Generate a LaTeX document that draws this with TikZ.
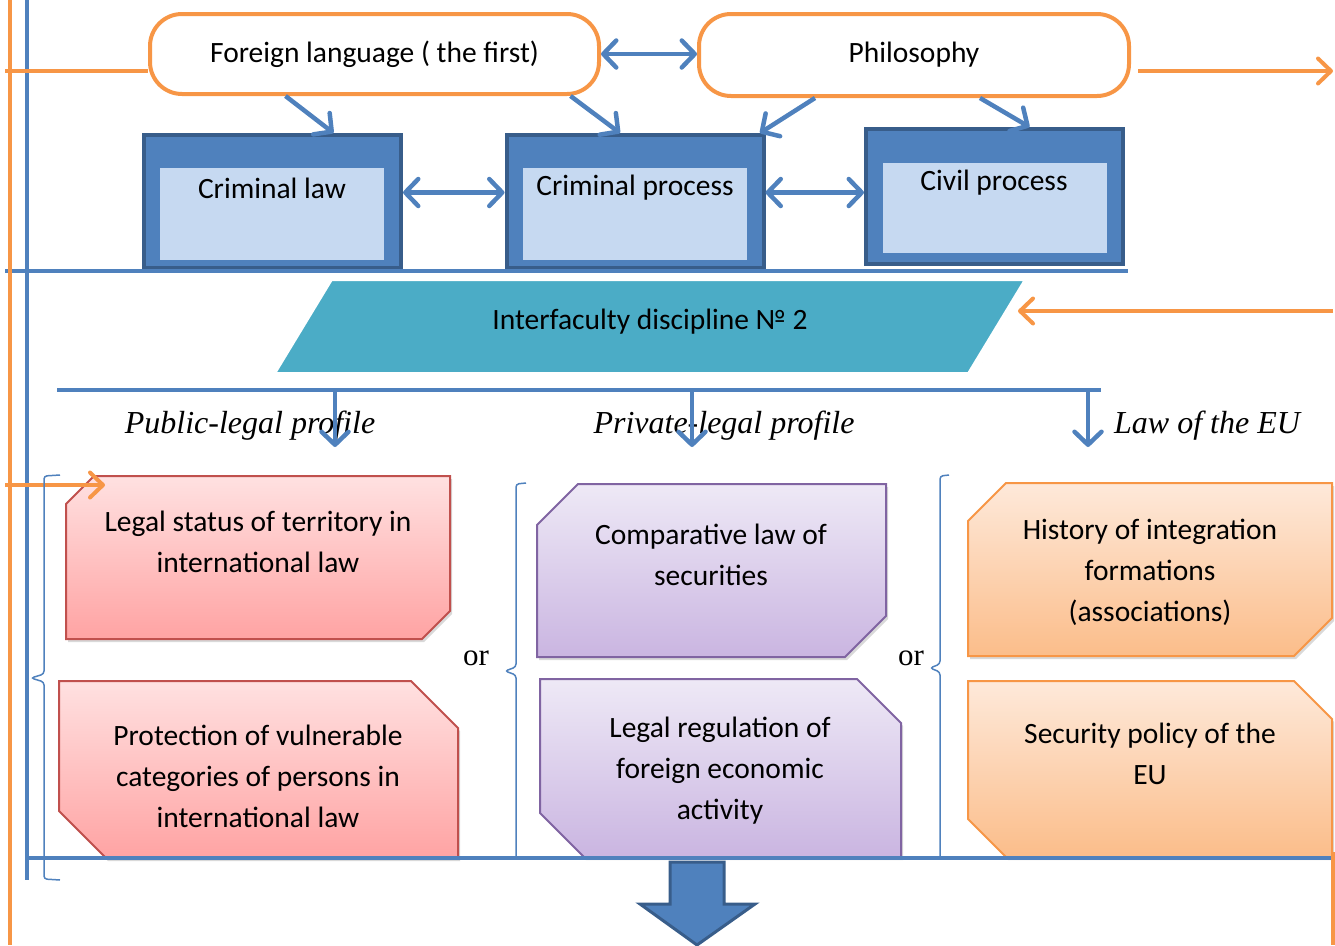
\documentclass[tikz,border=0pt]{standalone}
\usepackage{fontspec}
\setmainfont{Carlito}
\newfontfamily\timesfont{Liberation Serif}
\usetikzlibrary{arrows.meta,shadows}

\definecolor{orline}{HTML}{F79646}
\definecolor{blline}{HTML}{4F81BD}
\definecolor{bldark}{HTML}{385D8A}
\definecolor{blpale}{HTML}{C6D9F1}
\definecolor{discfill}{HTML}{4BACC6}
\definecolor{redline}{HTML}{C0504D}
\definecolor{redtop}{HTML}{FFE1E1}
\definecolor{redbot}{HTML}{FFA3A3}
\definecolor{vioedge}{HTML}{8064A2}
\definecolor{viotop}{HTML}{EEE9F6}
\definecolor{viobot}{HTML}{CAB5E1}
\definecolor{ortop}{HTML}{FEE9DA}
\definecolor{orbot}{HTML}{FBBD8A}

% snipped boxes: style, node, cut
\newcommand\snipNW[3]{\draw[#1] ([xshift=#3]#2.north west) -- (#2.north east) -- ([yshift=#3]#2.south east)
  -- ([xshift=-#3]#2.south east) -- (#2.south west) -- ([yshift=-#3]#2.north west) -- cycle;}
\newcommand\snipNE[3]{\draw[#1] (#2.north west) -- ([xshift=-#3]#2.north east) -- ([yshift=-#3]#2.north east)
  -- (#2.south east) -- ([xshift=#3]#2.south west) -- ([yshift=#3]#2.south west) -- cycle;}

\tikzset{
  chev/.tip={Straight Barb[length=13pt,width=27pt,round]},
  ochev/.tip={Straight Barb[length=13pt,width=25pt,round]},
  blln/.style={draw=blline,line width=4pt},
  orln/.style={draw=orline,line width=4pt},
  blarr/.style={blln,line width=4.5pt,-chev},
  dblarr/.style={blln,line width=4.5pt,chev-chev},
  orarr/.style={orln,-ochev},
  course/.style={draw=orline,line width=4pt,rounded corners=32pt,fill=white},
  cbox/.style={draw=bldark,fill=blline,line width=4pt,minimum width=257pt,minimum height=133pt},
  cin/.style={fill=blpale,minimum width=224pt,minimum height=92pt},
  discshape/.style={fill=discfill,draw=white,line width=8pt,
    drop shadow={opacity=0.35,shadow xshift=2pt,shadow yshift=-3pt}},
  area/.style={outer sep=0pt},
  snip/.style={line width=2pt,drop shadow={opacity=0.3,shadow xshift=2pt,shadow yshift=-3pt}},
  redbox/.style={snip,draw=redline,top color=redtop,bottom color=redbot},
  viobox/.style={snip,draw=vioedge,top color=viotop,bottom color=viobot},
  orbox/.style={snip,draw=orline,top color=ortop,bottom color=orbot},
  brace/.style={draw=blline,line width=1.5pt,rounded corners=3pt},
  profile/.style={font=\timesfont\itshape\fontsize{32}{38}\selectfont},
  ortxt/.style={font=\timesfont\fontsize{31}{36}\selectfont}
}

\begin{document}
\begin{tikzpicture}[x=1pt,y=-1pt,
  every node/.style={font=\fontsize{29.5}{41}\selectfont,align=center,inner sep=0pt}]
\useasboundingbox (0,0) rectangle (1335,945);

\draw[blln] (27,0) -- (27,880);

% first row
\node[course,minimum width=449pt,minimum height=80pt] (lang) at (374.5,54) {Foreign language ( the first)};
\node[course,minimum width=430pt,minimum height=82pt] (phil) at (914,55) {Philosophy};
\coordinate (inL) at (5,71);
\coordinate (outR) at (1333,71);
\draw[orln] (inL) -- (lang.west |- inL);
\draw[orarr,shorten <=7pt] (phil.east |- outR) -- (outR);
\draw[dblarr] (lang.east) -- (phil.west |- lang.east);

\node[cbox] (claw) at (272.5,201.5) {};
\node[cin] (clawin) at (272,214) {};
\node (clawtxt) at (272,188) {Criminal law};
\node[cbox] (cproc) at (635,201.5) {};
\node[cin] (cprocin) at (635,214) {};
\node (cproctxt) at (635,188) {Criminal process};
\node[cbox,minimum height=135pt] (civil) at (994.5,196.5) {};
\node[cin,minimum height=90pt] (civilin) at (994.5,208) {};
\node (civiltxt) at (994,183) {Civil process};

\draw[blarr] ([xshift=-89pt]lang.south) -- ([xshift=61pt]claw.north);
\draw[blarr] ([xshift=196pt]lang.south) -- ([xshift=-15pt]cproc.north);
\draw[blarr] ([xshift=-99pt]phil.south) -- ([xshift=125pt]cproc.north);
\draw[blarr] ([xshift=66pt]phil.south) -- ([xshift=35pt]civil.north);
\draw[dblarr] ([yshift=9pt]claw.east) -- ([yshift=9pt]cproc.west);
\draw[dblarr] ([yshift=9pt]cproc.east) -- ([yshift=4pt]civil.west);

\draw[blln] (5,271) -- (1128,271);

% discipline
\node[area,minimum width=700pt,minimum height=99pt] (disc) at (650,326.5) {};
\draw[discshape] ([xshift=-30pt]disc.south west) -- ([xshift=-30pt]disc.south east)
  -- ([xshift=30pt]disc.north east) -- ([xshift=30pt]disc.north west) -- cycle;
\node (disctxt) at (650,322) {Interfaculty discipline № 2};
\coordinate (inR) at (1333,311);
\draw[orarr] (inR) -- ([xshift=18pt,yshift=15.5pt]disc.east);

\draw[blln] (57,390) -- (1101,390);
\node[profile] (pub) at (250,426) {Public-legal profile};
\node[profile] (priv) at (724,426) {Private-legal profile};
\node[profile] (eu) at (1207,426) {Law of the EU};
\foreach \x/\n in {335/pub,692/priv,1088/eu}{
  \coordinate (\n top) at (\x,390);
  \coordinate (\n end) at (\x,447);
  \draw[blarr] (\n top) -- (\n end);
}

% choices
\node[area,minimum width=384pt,minimum height=163pt] (terr) at (258,557.5) {};
\snipNW{redbox}{terr}{28pt}
\node (terrtxt) at (258,542) {Legal status of territory in\\international law};
\node[area,minimum width=399pt,minimum height=177pt] (vuln) at (258.5,769.5) {};
\snipNE{redbox}{vuln}{47pt}
\node (vulntxt) at (258,776) {Protection of vulnerable\\categories of persons in\\international law};
\node[area,minimum width=349pt,minimum height=173pt] (secur) at (711.5,570.5) {};
\snipNW{viobox}{secur}{41pt}
\node (securtxt) at (711,555) {Comparative law of\\securities};
\node[area,minimum width=361pt,minimum height=178pt] (fea) at (720.5,768) {};
\snipNE{viobox}{fea}{44pt}
\node (featxt) at (720,771) {Legal regulation of\\foreign economic\\activity};
\node[area,minimum width=364pt,minimum height=173pt] (hist) at (1150,569.5) {};
\snipNW{orbox}{hist}{38pt}
\node (histtxt) at (1150,572) {History of integration\\formations\\(associations)};
\node[area,minimum width=364pt,minimum height=176pt] (secp) at (1150,769) {};
\snipNE{orbox}{secp}{38pt}
\node (secptxt) at (1150,754) {Security policy of the\\EU};

\coordinate (inT) at (5,485);
\coordinate (inTend) at (105,485);
\draw[orarr] (inT) -- (inTend);

\node[ortxt] (or1) at (476,658) {or};
\node[ortxt] (or2) at (911,658) {or};
\draw[brace] (60,475) -- (44,476) -- (44,674) -- (31,678) -- (44,682) -- (44,879) -- (60,880);
\draw[brace] (526,483) -- (516,484) -- (516,667) -- (505,671) -- (516,675) -- (516,858);
\draw[brace] (949,475) -- (940,476) -- (940,664) -- (930,668) -- (940,672) -- (940,858);

\draw[blln] (25,858) -- (1335,858);
\draw[fill=blline,draw=bldark,line width=3pt] (670,862) -- (724,862) -- (724,904) -- (755,904)
  -- (697,945) -- (640,904) -- (670,904) -- cycle;

\draw[orln] (10,0) -- (10,945);
\draw[orln] (1333,852) -- (1333,945);
\end{tikzpicture}
\end{document}
